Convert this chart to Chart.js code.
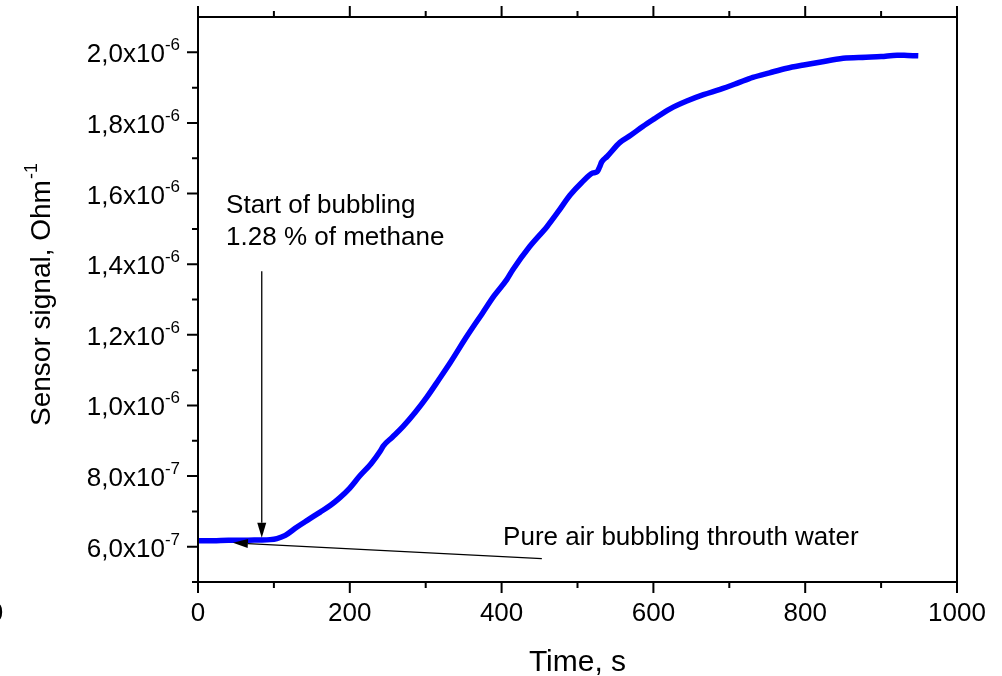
<!DOCTYPE html>
<html>
<head>
<meta charset="utf-8">
<script src="https://cdn.jsdelivr.net/npm/chart.js@4.4.1/dist/chart.umd.min.js"></script>
<style>
  body { margin: 0; background: #fff; }
  #wrap { width: 1002px; height: 676px; }
</style>
</head>
<body>
<div id="wrap"><canvas id="sensor" width="1002" height="676"></canvas></div>
<script>
// time, s
let times = [0, 20, 40, 60, 80, 95, 104, 115, 130, 145, 161, 175, 187, 200, 213, 228, 240, 244, 256, 270,
  286, 302, 317, 332, 354, 375, 390, 407, 415, 437, 460, 475, 490, 505, 520, 526, 529, 532, 539, 556,
  570, 586, 600, 622, 644, 666, 688, 710, 731, 753, 776, 798, 819, 850, 880, 900, 921, 935, 949]
// sensor signal, Ohm^-1
let signal = [6.17e-7, 6.17e-7, 6.18e-7, 6.18e-7, 6.19e-7, 6.20e-7, 6.23e-7, 6.32e-7, 6.55e-7, 6.76e-7,
  6.98e-7, 7.18e-7, 7.39e-7, 7.66e-7, 8.00e-7, 8.35e-7, 8.70e-7, 8.85e-7, 9.10e-7, 9.40e-7,
  9.80e-7, 1.025e-6, 1.072e-6, 1.120e-6, 1.195e-6, 1.262e-6, 1.310e-6, 1.357e-6, 1.385e-6, 1.450e-6,
  1.507e-6, 1.550e-6, 1.595e-6, 1.630e-6, 1.658e-6, 1.662e-6, 1.675e-6, 1.690e-6, 1.705e-6, 1.745e-6,
  1.765e-6, 1.790e-6, 1.810e-6, 1.840e-6, 1.862e-6, 1.880e-6, 1.895e-6, 1.912e-6, 1.929e-6, 1.942e-6,
  1.955e-6, 1.964e-6, 1.972e-6, 1.983e-6, 1.986e-6, 1.988e-6, 1.992e-6, 1.991e-6, 1.990e-6]

let xTicks = [0, 200, 400, 600, 800, 1000]
let xMinorTicks = [100, 300, 500, 700, 900]
let yTicks = [6e-7, 8e-7, 1.0e-6, 1.2e-6, 1.4e-6, 1.6e-6, 1.8e-6, 2.0e-6]
let yMinorTicks = [5e-7, 7e-7, 9e-7, 1.1e-6, 1.3e-6, 1.5e-6, 1.7e-6, 1.9e-6]
let yTickLabels = ['6,0x10', '8,0x10', '1,0x10', '1,2x10', '1,4x10', '1,6x10', '1,8x10', '2,0x10']
let yTickExps = ['-7', '-7', '-6', '-6', '-6', '-6', '-6', '-6']

const FONT = '"Liberation Sans", Arial, sans-serif'

function arrow(ctx, x0, y0, x1, y1) {
  let a = Math.atan2(y1 - y0, x1 - x0)
  let len = 15, hw = 4.5
  ctx.beginPath()
  ctx.moveTo(x0, y0)
  ctx.lineTo(x1 - Math.cos(a) * len, y1 - Math.sin(a) * len)
  ctx.stroke()
  ctx.beginPath()
  ctx.moveTo(x1, y1)
  ctx.lineTo(x1 - Math.cos(a) * len - Math.sin(a) * hw, y1 - Math.sin(a) * len + Math.cos(a) * hw)
  ctx.lineTo(x1 - Math.cos(a) * len + Math.sin(a) * hw, y1 - Math.sin(a) * len - Math.cos(a) * hw)
  ctx.closePath()
  ctx.fill()
}

const frameAndText = {
  id: 'frameAndText',
  afterDraw(chart) {
    let ctx = chart.ctx
    let area = chart.chartArea
    let xs = chart.scales.x, ys = chart.scales.y
    ctx.save()
    ctx.strokeStyle = '#000'
    ctx.fillStyle = '#000'
    ctx.lineWidth = 2
    ctx.strokeRect(area.left, area.top, area.right - area.left, area.bottom - area.top)

    // ticks
    ctx.beginPath()
    xTicks.forEach(v => {
      let px = xs.getPixelForValue(v)
      ctx.moveTo(px, area.bottom); ctx.lineTo(px, area.bottom + 11)
      ctx.moveTo(px, area.top); ctx.lineTo(px, area.top - 11)
    })
    xMinorTicks.forEach(v => {
      let px = xs.getPixelForValue(v)
      ctx.moveTo(px, area.bottom); ctx.lineTo(px, area.bottom + 6)
      ctx.moveTo(px, area.top); ctx.lineTo(px, area.top - 6)
    })
    yTicks.forEach(v => {
      let py = ys.getPixelForValue(v)
      ctx.moveTo(area.left, py); ctx.lineTo(area.left - 11, py)
    })
    yMinorTicks.forEach(v => {
      let py = ys.getPixelForValue(v)
      ctx.moveTo(area.left, py); ctx.lineTo(area.left - 6, py)
    })
    ctx.stroke()

    // x tick labels
    ctx.font = '26px ' + FONT
    ctx.textAlign = 'center'
    ctx.textBaseline = 'alphabetic'
    xTicks.forEach(v => {
      ctx.fillText(String(v), xs.getPixelForValue(v), area.bottom + 39)
    })
    ctx.fillText('0', -4, area.bottom + 39)

    // y tick labels with exponent
    yTicks.forEach((v, i) => {
      let py = ys.getPixelForValue(v)
      ctx.font = '17px ' + FONT
      let sw = ctx.measureText(yTickExps[i]).width
      let right = area.left - 18
      ctx.textAlign = 'left'
      ctx.fillText(yTickExps[i], right - sw, py - 2)
      ctx.font = '26px ' + FONT
      ctx.textAlign = 'right'
      ctx.fillText(yTickLabels[i], right - sw, py + 10)
    })

    // axis titles
    ctx.textAlign = 'center'
    ctx.font = '30px ' + FONT
    ctx.fillText('Time, s', (area.left + area.right) / 2, 671)

    ctx.save()
    ctx.translate(50, 295)
    ctx.rotate(-Math.PI / 2)
    ctx.font = '28px ' + FONT
    let main = 'Sensor signal, Ohm'
    let mw = ctx.measureText(main).width
    ctx.font = '18px ' + FONT
    let ew = ctx.measureText('-1').width
    let start = -(mw + ew) / 2
    ctx.textAlign = 'left'
    ctx.font = '28px ' + FONT
    ctx.fillText(main, start, 0)
    ctx.font = '18px ' + FONT
    ctx.fillText('-1', start + mw + 1, -13)
    ctx.restore()

    // annotations
    ctx.font = '26px ' + FONT
    ctx.textAlign = 'left'
    ctx.fillText('Start of bubbling', xs.getPixelForValue(37), ys.getPixelForValue(1.546e-6))
    ctx.fillText('1.28 % of methane', xs.getPixelForValue(37), ys.getPixelForValue(1.455e-6))
    ctx.fillText('Pure air bubbling throuth water', xs.getPixelForValue(402), ys.getPixelForValue(6.06e-7))

    ctx.lineWidth = 1.3
    arrow(ctx, xs.getPixelForValue(84), ys.getPixelForValue(1.38e-6),
      xs.getPixelForValue(84), ys.getPixelForValue(6.25e-7))
    arrow(ctx, xs.getPixelForValue(453), ys.getPixelForValue(5.66e-7),
      xs.getPixelForValue(46), ys.getPixelForValue(6.11e-7))
    ctx.restore()
  }
}

let points = times.map((t, i) => ({ x: t, y: signal[i] }))

let sensorChart = new Chart(document.querySelector('#sensor'), {
  type: 'line',
  plugins: [frameAndText],
  data: {
    datasets: [{
      label: 'Sensor signal',
      data: points,
      borderColor: '#0000FF',
      borderWidth: 5.5,
      pointRadius: 0,
      cubicInterpolationMode: 'monotone',
      fill: false
    }]
  },
  options: {
    responsive: false,
    animation: false,
    layout: {
      padding: {
        left: 198,
        top: 17,
        right: 45,
        bottom: 94
      }
    },
    scales: {
      x: {
        type: 'linear',
        display: false,
        min: 0,
        max: 1000
      },
      y: {
        type: 'linear',
        display: false,
        min: 5e-7,
        max: 2.1e-6
      }
    },
    plugins: {
      legend: {
        display: false
      },
      tooltip: {
        enabled: false
      }
    }
  }
})
</script>
</body>
</html>
